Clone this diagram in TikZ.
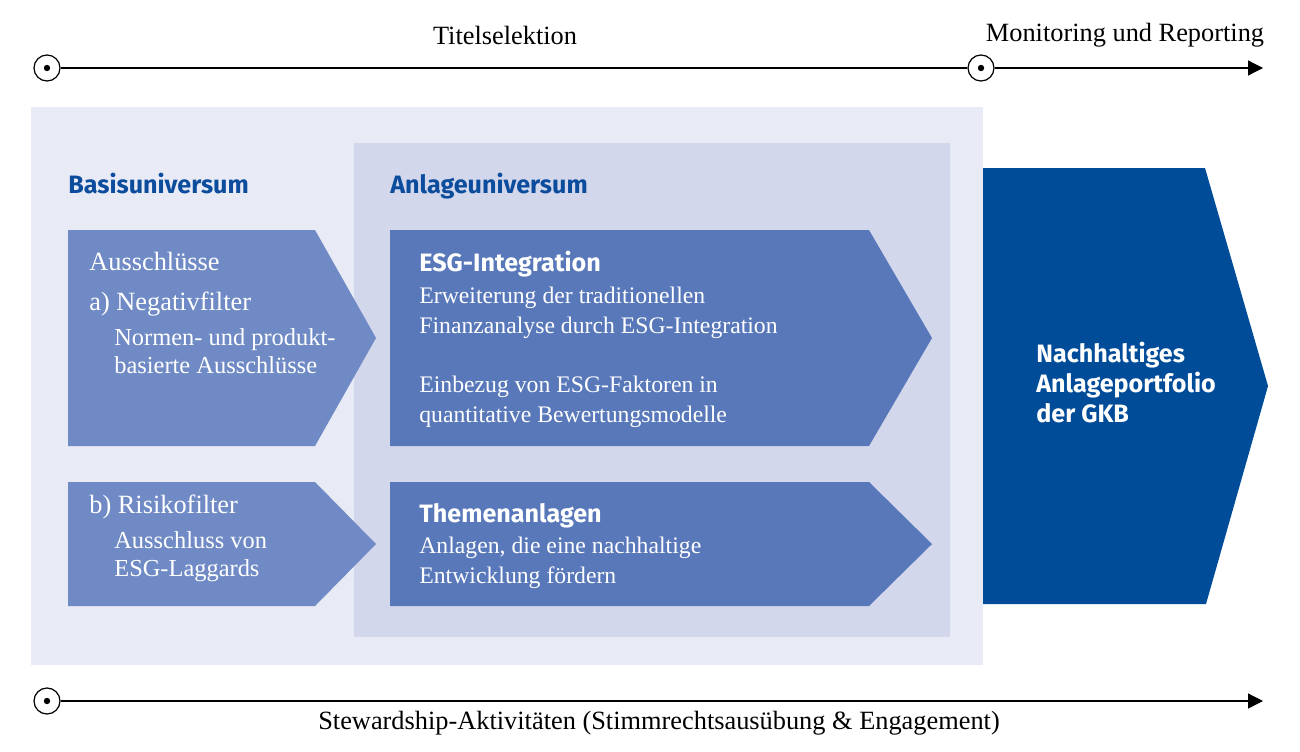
\documentclass[tikz,border=0pt]{standalone}
\usepackage{fontspec}
\setmainfont{Liberation Serif}
\newfontfamily\headfont{Fira Sans}
\usetikzlibrary{arrows.meta,positioning}
\definecolor{basisbg}{HTML}{E8EAF5}
\definecolor{anlagebg}{HTML}{D3D7EC}
\definecolor{filterblue}{HTML}{6F8AC4}
\definecolor{anlageblue}{HTML}{5878BA}
\definecolor{gkbblue}{HTML}{004C99}
\definecolor{headblue}{HTML}{0B4C9C}
\tikzset{
basis area/.style={fill=basisbg},
anlage area/.style={fill=anlagebg},
filter arrow/.style={fill=filterblue},
anlage arrow/.style={fill=anlageblue},
portfolio arrow/.style={fill=gkbblue},
marker/.style={circle,draw,line width=.7pt,fill=white,inner sep=0pt,minimum size=.52cm},
marker dot/.style={fill=black},
timeline/.style={line width=.7pt},
timeline arrow/.style={timeline,-{Triangle[length=.3cm,width=.3cm]}},
area title/.style={anchor=base west,inner sep=0pt,font=\headfont\bfseries\fontsize{14.3}{17}\selectfont,text=headblue},
box title/.style={anchor=base west,inner sep=0pt,font=\headfont\bfseries\fontsize{14.3}{17}\selectfont,text=white},
filter title/.style={anchor=base west,inner sep=0pt,font=\fontsize{15}{18}\selectfont,text=white},
% multi-line texts: anchored at the baseline of their last line
box text/.style={anchor=base west,inner sep=0pt,align=left,font=\fontsize{13.5}{17}\selectfont,text=white},
filter text/.style={box text,font=\fontsize{13.9}{15.7}\selectfont},
phase/.style={inner sep=0pt,font=\fontsize{15}{18}\selectfont},
}

\begin{document}
\begin{tikzpicture}[x=0.02cm,y=-0.02cm]
    \useasboundingbox (0,0) rectangle (1300,751);

    % universes
    \fill[basis area] (31,107) rectangle (983,665);
    \fill[anlage area] (354,143) rectangle (950,637);
    \node[area title] (basis) at (68,193) {Basisuniversum};
    \node[area title] (anlage) at (390,193) {Anlageuniversum};

    % filters
    \fill[filter arrow] (68,230) -- (315,230) -- (376,338) -- (315,446) -- (68,446) -- cycle;
    \fill[filter arrow] (68,482) -- (315,482) -- (376,544) -- (315,606) -- (68,606) -- cycle;
    \node[filter title] (aus) at (89,270) {Ausschlüsse};
    \node[filter title] (neg) at (89,310) {a) Negativfilter};
    \node[filter text] (negtext) at (114,373)
        {Normen- und produkt-\\basierte Ausschlüsse};
    \node[filter title] (risk) at (89,513) {b) Risikofilter};
    \node[filter text] (risktext) at (114,576)
        {Ausschluss von\\ESG-Laggards};

    % investment approaches
    \fill[anlage arrow] (390,230) -- (869,230) -- (932,338) -- (869,446) -- (390,446) -- cycle;
    \fill[anlage arrow] (390,482) -- (869,482) -- (932,544) -- (869,606) -- (390,606) -- cycle;
    \node[box title] (esg) at (419,271.5) {ESG-Integration};
    \node[box text] (esgtext) at (419,422.7)
        {Erweiterung der traditionellen\\Finanzanalyse durch ESG-Integration\\[17pt]
         Einbezug von ESG-Faktoren in\\quantitative Bewertungsmodelle};
    \node[box title] (themen) at (419,522.5) {Themenanlagen};
    \node[box text] (thementext) at (419,583)
        {Anlagen, die eine nachhaltige\\Entwicklung fördern};

    % portfolio
    \fill[portfolio arrow] (983,168) -- (1205,168) -- (1268,386) -- (1206,604) -- (983,604) -- cycle;
    \node[box title,align=left] (gkb) at (1036,422.7)
        {Nachhaltiges\\Anlageportfolio\\der GKB};

    % time lines
    \node[marker] (start) at (47,68) {};
    \node[marker] (monitor) at (981,68) {};
    \coordinate (end) at (1263,68);
    \draw[timeline] (start) -- (monitor);
    \draw[timeline arrow] (monitor) -- (end);
    \fill[marker dot] (start) circle (3.2) (monitor) circle (3.2);
    \node[phase] (titel) at (505,35) {Titelselektion};
    \node[phase] (report) at (1125,35) {Monitoring und Reporting};

    \node[marker] (steward) at (47,701) {};
    \coordinate (stewardend) at (1263,701);
    \draw[timeline arrow] (steward) -- (stewardend);
    \fill[marker dot] (steward) circle (3.2);
    \node[phase] (stewardlabel) at (659,723)
        {Stewardship-Aktivitäten (Stimmrechtsausübung \& Engagement)};
\end{tikzpicture}
\end{document}
